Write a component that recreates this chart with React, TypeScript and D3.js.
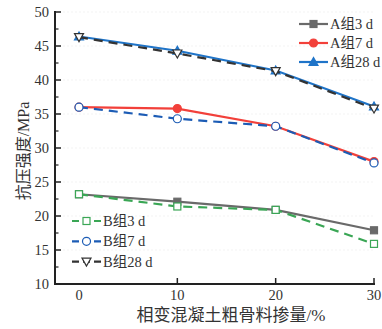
import React from "react";
import * as d3 from "d3";

const xValues = [0, 10, 20, 30];
const xTicks = [0, 10, 20, 30];
const yTicks = [10, 15, 20, 25, 30, 35, 40, 45, 50];
const yMinorTicks = [12.5, 17.5, 22.5, 27.5, 32.5, 37.5, 42.5, 47.5];

const a3 = [23.2, 22.1, 20.9, 17.9];
const a7 = [36.0, 35.8, 33.2, 28.0];
const a28 = [46.4, 44.3, 41.4, 36.1];
const b3 = [23.2, 21.4, 20.9, 15.9];
const b7 = [36.0, 34.3, 33.2, 27.8];
const b28 = [46.3, 43.9, 41.3, 35.8];

const seriesNames = ["A组3 d", "A组7 d", "A组28 d", "B组3 d", "B组7 d", "B组28 d"];

type Marker = "sq" | "circle" | "tri" | "tridown";
interface Series {
  name: string;
  values: number[];
  color: string;
  dashed: boolean;
  marker: Marker;
  filled: boolean;
}

const seriesA: Series[] = [
  { name: seriesNames[0], values: a3, color: "#6a6a6a", dashed: false, marker: "sq", filled: true },
  { name: seriesNames[1], values: a7, color: "#f2403a", dashed: false, marker: "circle", filled: true },
  { name: seriesNames[2], values: a28, color: "#1f74c8", dashed: false, marker: "tri", filled: true },
];
const seriesB: Series[] = [
  { name: seriesNames[3], values: b3, color: "#3aa655", dashed: true, marker: "sq", filled: false },
  { name: seriesNames[4], values: b7, color: "#1c5cb5", dashed: true, marker: "circle", filled: false },
  { name: seriesNames[5], values: b28, color: "#333333", dashed: true, marker: "tridown", filled: false },
];

const W = 382;
const H = 329;
const left = 55;
const right = 374;
const top = 12;
const bottom = 284;

const x = d3.scaleLinear().domain([0, 30]).range([79, 374]);
const y = d3.scaleLinear().domain([10, 50]).range([bottom, top]);

const FONT = "'Liberation Serif', 'Times New Roman', 'Noto Sans CJK SC', serif";

function MarkerShape({ cx, cy, s }: { cx: number; cy: number; s: Series }) {
  const fill = s.filled ? s.color : "#ffffff";
  const sw = 1.2;
  if (s.marker === "sq") {
    return <rect x={cx - 3.5} y={cy - 3.5} width={7} height={7} fill={fill} stroke={s.color} strokeWidth={sw} />;
  }
  if (s.marker === "circle") {
    return <circle cx={cx} cy={cy} r={4} fill={fill} stroke={s.color} strokeWidth={sw} />;
  }
  if (s.marker === "tri") {
    const p = `${cx},${cy - 4.5} ${cx - 4.5},${cy + 3.5} ${cx + 4.5},${cy + 3.5}`;
    return <polygon points={p} fill={fill} stroke={s.color} strokeWidth={sw} />;
  }
  const p = `${cx},${cy + 4.5} ${cx - 4.5},${cy - 3.5} ${cx + 4.5},${cy - 3.5}`;
  return <polygon points={p} fill={fill} stroke={s.color} strokeWidth={sw} />;
}

function SeriesPath({ s }: { s: Series }) {
  const line = d3
    .line<number>()
    .x((_, i) => x(xValues[i]))
    .y((v) => y(v));
  return (
    <g>
      <path
        d={line(s.values) || ""}
        fill="none"
        stroke={s.color}
        strokeWidth={2.2}
        strokeDasharray={s.dashed ? "9,6" : undefined}
      />
      {s.values.map((v, i) => (
        <MarkerShape key={i} cx={x(xValues[i])} cy={y(v)} s={s} />
      ))}
    </g>
  );
}

function LegendItem({ s, lx, ly }: { s: Series; lx: number; ly: number }) {
  return (
    <g>
      <line
        x1={lx}
        x2={lx + 29}
        y1={ly}
        y2={ly}
        stroke={s.color}
        strokeWidth={2.2}
        strokeDasharray={s.dashed ? "7,4" : undefined}
      />
      <MarkerShape cx={lx + 14.5} cy={ly} s={s} />
      <text x={lx + 31} y={ly + 5} fontSize={14.5} fontFamily={FONT} fill="#333">
        {s.name}
      </text>
    </g>
  );
}

export default function App() {
  return (
    <svg width={W} height={H} style={{ position: "absolute", left: 0, top: 0, background: "#fff" }}>
      {/* faint horizontal guides */}
      {yTicks.slice(1).map((t) => (
        <line key={t} x1={left} x2={right} y1={y(t)} y2={y(t)} stroke="#f0f0f0" strokeWidth={0.8} strokeDasharray="2,2" />
      ))}

      {/* series: group A then group B on top */}
      {seriesA.map((s) => (
        <SeriesPath key={s.name} s={s} />
      ))}
      {seriesB.map((s) => (
        <SeriesPath key={s.name} s={s} />
      ))}

      {/* axes */}
      <line x1={left} x2={left} y1={top - 1} y2={bottom + 1} stroke="#222" strokeWidth={2} />
      <line x1={left - 1} x2={right + 1} y1={bottom} y2={bottom} stroke="#222" strokeWidth={2} />
      {yTicks.map((t) => (
        <g key={t}>
          <line x1={left} x2={left + 6} y1={y(t)} y2={y(t)} stroke="#222" strokeWidth={1.5} />
          <text x={49} y={y(t) + 5} textAnchor="end" fontSize={14.5} fontFamily={FONT} fill="#333">
            {t}
          </text>
        </g>
      ))}
      {yMinorTicks.map((t) => (
        <line key={t} x1={left} x2={left + 3.5} y1={y(t)} y2={y(t)} stroke="#222" strokeWidth={1.2} />
      ))}
      {xTicks.map((t) => (
        <g key={t}>
          {t > 0 && <line x1={x(t)} x2={x(t)} y1={bottom} y2={bottom - 6} stroke="#222" strokeWidth={1.5} />}
          <text x={x(t)} y={300} textAnchor="middle" fontSize={14.5} fontFamily={FONT} fill="#333">
            {t}
          </text>
        </g>
      ))}

      {/* axis titles */}
      <text x={231} y={321} textAnchor="middle" fontSize={17} fontFamily={FONT} fill="#333">
        相变混凝土粗骨料掺量/%
      </text>
      <text
        transform="translate(29,151) rotate(-90)"
        textAnchor="middle"
        fontSize={16}
        fontFamily={FONT}
        fill="#333"
      >
        抗压强度/MPa
      </text>

      {/* legends */}
      {seriesA.map((s, i) => (
        <LegendItem key={s.name} s={s} lx={299} ly={24 + i * 19} />
      ))}
      {seriesB.map((s, i) => (
        <LegendItem key={s.name} s={s} lx={72} ly={221 + i * 20.3} />
      ))}
    </svg>
  );
}
